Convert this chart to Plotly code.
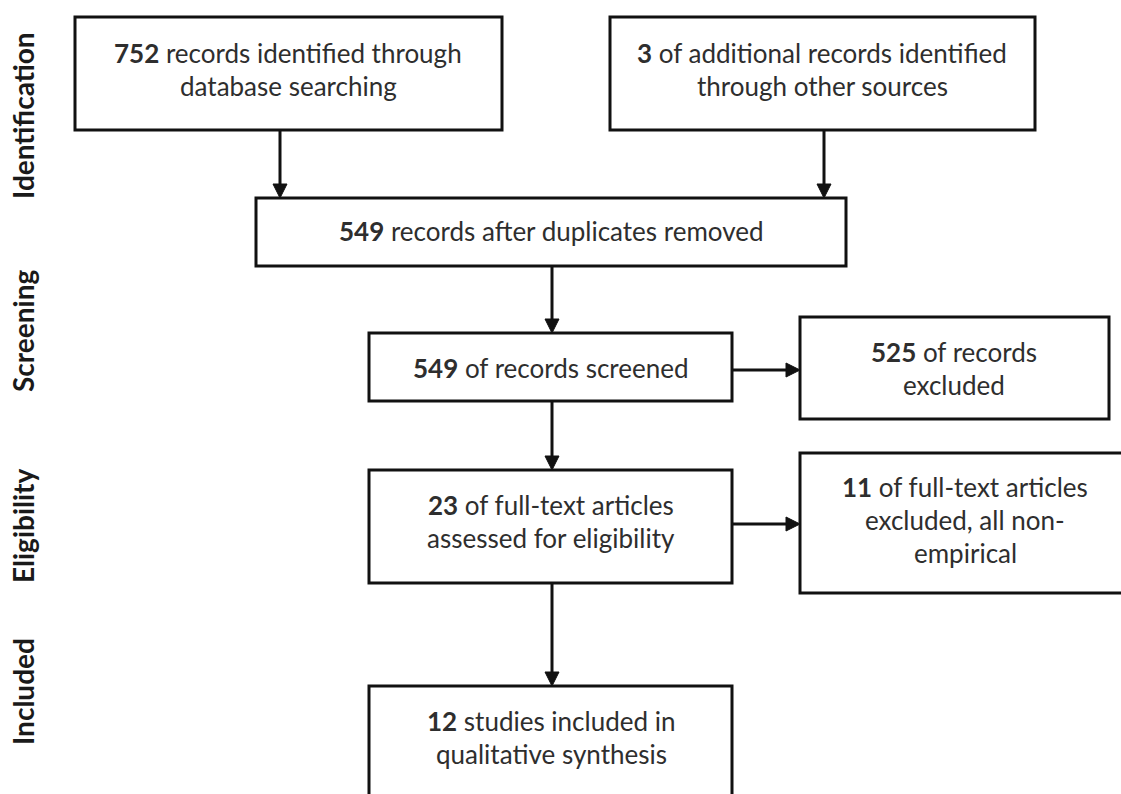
import plotly.graph_objects as go

# ---------------- data ----------------
stages = ["Identification", "Screening", "Eligibility", "Included"]
counts = [752, 3, 549, 549, 525, 23, 11, 12]
first_lines = [
    "records identified through",
    "of additional records identified",
    "records after duplicates removed",
    "of records screened",
    "of records",
    "of full-text articles",
    "of full-text articles",
    "studies included in",
]
extra_lines = [
    ["database searching"],
    ["through other sources"],
    [],
    [],
    ["excluded"],
    ["assessed for eligibility"],
    ["excluded, all non-", "empirical"],
    ["qualitative synthesis"],
]

# ---------------- layout geometry (pixels) ----------------
W, H = 1121, 794
# x0, x1, y0, y1, text-centre x, text-centre y
boxes = [
    (75, 502, 17, 130, 288, 69),
    (610, 1035, 17, 130, 822, 69),
    (256, 846, 198, 266, 551, 231),
    (369, 732, 333, 401, 551, 368),
    (800, 1109, 317, 419, 954, 368.5),
    (369, 732, 470, 583, 551, 521.5),
    (800, 1135, 453, 593, 965, 520),
    (369, 732, 686, 840, 551, 737.5),
]
# connectors: start (x, y) -> end (x, y)
arrows = [
    (280, 130, 280, 198),
    (824, 130, 824, 198),
    (552, 266, 552, 333),
    (732, 370, 800, 370),
    (552, 401, 552, 470),
    (732, 524, 800, 524),
    (552, 583, 552, 686),
]
stage_y = [116, 331, 526, 692]
stage_x = 23

FONT = "Lato"
TXT = 26
LBL = 28
LINE_SP = 33
LW = 3
HEAD_L, HEAD_W = 14, 14

fig = go.Figure()
shapes = []
annotations = []

for (x0, x1, y0, y1, tx, ty), n, l1, extra in zip(boxes, counts, first_lines, extra_lines):
    shapes.append(dict(type="rect", xref="x", yref="y", x0=x0, x1=x1, y0=y0, y1=y1,
                       line=dict(color="#111111", width=LW), fillcolor="white", layer="below"))
    lines = [f"<b>{n}</b> {l1}"] + extra
    k = len(lines)
    for i, s in enumerate(lines):
        annotations.append(dict(x=tx, y=ty + (i - (k - 1) / 2) * LINE_SP, xref="x", yref="y",
                                text=s, showarrow=False, xanchor="center", yanchor="middle",
                                font=dict(family=FONT, size=TXT, color="#2e2e2e")))

for (xs, ys, xe, ye) in arrows:
    if xs == xe:  # vertical, downward
        shapes.append(dict(type="line", xref="x", yref="y", x0=xs, x1=xe, y0=ys, y1=ye - HEAD_L + 1,
                           line=dict(color="#111111", width=LW)))
        path = f"M {xe - HEAD_W/2},{ye - HEAD_L} L {xe + HEAD_W/2},{ye - HEAD_L} L {xe},{ye} Z"
    else:  # horizontal, rightward
        shapes.append(dict(type="line", xref="x", yref="y", x0=xs, x1=xe - HEAD_L + 1, y0=ys, y1=ye,
                           line=dict(color="#111111", width=LW)))
        path = f"M {xe - HEAD_L},{ye - HEAD_W/2} L {xe - HEAD_L},{ye + HEAD_W/2} L {xe},{ye} Z"
    shapes.append(dict(type="path", xref="x", yref="y", path=path,
                       fillcolor="#111111", line=dict(color="#111111", width=1)))

for name, y in zip(stages, stage_y):
    annotations.append(dict(x=stage_x, y=y, xref="x", yref="y", text=f"<b>{name}</b>",
                            textangle=-90, showarrow=False, xanchor="center", yanchor="middle",
                            font=dict(family=FONT, size=LBL, color="#1a1a1a")))

fig.update_layout(
    width=W, height=H,
    margin=dict(l=0, r=0, t=0, b=0),
    paper_bgcolor="white", plot_bgcolor="white",
    shapes=shapes, annotations=annotations,
    xaxis=dict(range=[0, W], visible=False, fixedrange=True),
    yaxis=dict(range=[H, 0], visible=False, fixedrange=True),
    showlegend=False,
)
fig.write_html(
    "out.html",
    config={"displayModeBar": False},
    post_script="document.body.style.margin='0';document.body.style.overflow='hidden';",
)
